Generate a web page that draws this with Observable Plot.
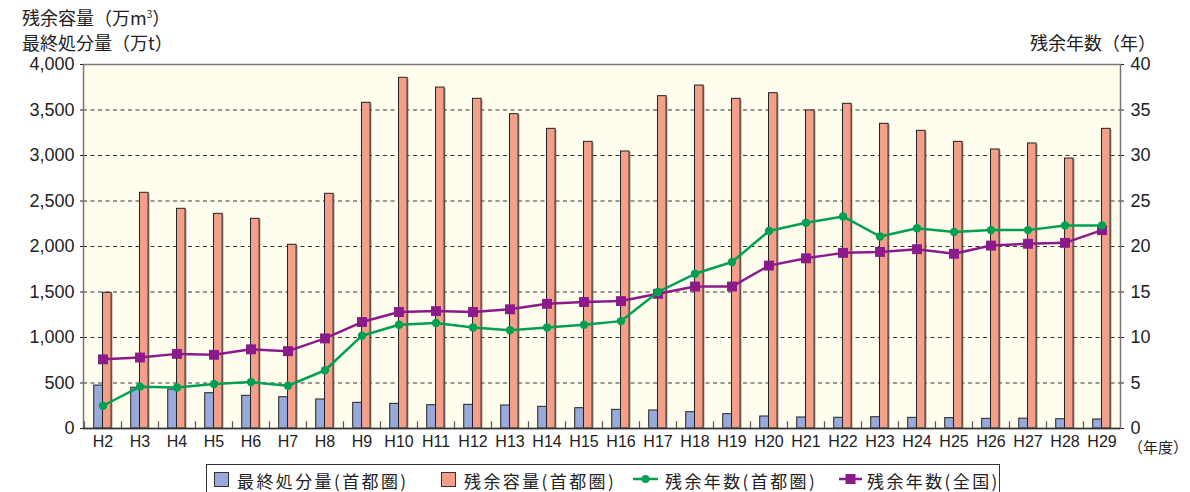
<!DOCTYPE html>
<html><head><meta charset="utf-8">
<script src="https://cdn.jsdelivr.net/npm/d3@7"></script>
<script src="https://cdn.jsdelivr.net/npm/@observablehq/plot@0.6"></script>
<style>
body{margin:0;background:#fff;}
#wrap{position:relative;width:1190px;height:492px;overflow:hidden;font-family:"Noto Sans CJK JP","Liberation Sans",sans-serif;color:#222;}
.lab{position:absolute;font-size:18px;line-height:1;white-space:nowrap;}
#chart{position:absolute;left:0;top:0;}
#legend{position:absolute;left:206px;top:464px;width:794px;height:40px;border:1px solid #333;box-sizing:border-box;}
.li{position:absolute;top:7px;font-size:17px;line-height:1;letter-spacing:2.4px;white-space:nowrap;}
.sw{position:absolute;top:7px;width:15px;height:15px;border:1px solid #333;box-sizing:border-box;}
</style></head>
<body>
<div id="wrap">
  <div id="chart"></div>
  <div class="lab" style="left:22px;top:8px;">残余容量（万m<sup style="font-size:10px;vertical-align:7px;line-height:0">3</sup>）</div>
  <div class="lab" style="left:22px;top:33px;">最終処分量（万t）</div>
  <div class="lab" style="left:1030px;top:33px;">残余年数（年）</div>
  <div class="lab" style="left:1128px;top:439px;font-size:15px;">（年度）</div>
  <div id="legend">
    <div class="sw" style="left:7px;background:#98AADA"></div>
    <div class="li" style="left:30px">最終処分量(首都圏)</div>
    <div class="sw" style="left:234px;background:#F4A088"></div>
    <div class="li" style="left:257px">残余容量(首都圏)</div>
    <svg style="position:absolute;left:425px;top:6px" width="28" height="16"><line x1="1" x2="26" y1="8" y2="8" stroke="#00A050" stroke-width="2.5"/><circle cx="13.5" cy="8" r="4" fill="#00A050"/></svg>
    <div class="li" style="left:458px">残余年数(首都圏)</div>
    <svg style="position:absolute;left:631px;top:6px" width="26" height="16"><line x1="1" x2="24" y1="8" y2="8" stroke="#8B1A8B" stroke-width="2.5"/><rect x="7.5" y="3" width="10" height="10" fill="#8B1A8B"/></svg>
    <div class="li" style="left:660px">残余年数(全国)</div>
  </div>
</div>
<script>
const years = ["H2","H3","H4","H5","H6","H7","H8","H9","H10","H11","H12","H13","H14","H15","H16","H17","H18","H19","H20","H21","H22","H23","H24","H25","H26","H27","H28","H29"];
const disposalMetro = [472,447,428,388,359,344,319,282,271,256,260,253,238,223,205,198,179,157,132,121,118,124,117,114,106,108,102,99];
const capacityMetro = [1491,2590,2414,2359,2304,2019,2579,3579,3854,3747,3623,3454,3293,3150,3044,3652,3769,3623,3685,3495,3568,3348,3271,3150,3066,3132,2967,3293];
const remainYearsMetro = [2.5,4.6,4.5,4.9,5.1,4.7,6.4,10.2,11.4,11.6,11.1,10.8,11.1,11.4,11.8,15.0,17.0,18.3,21.7,22.6,23.3,21.1,22.0,21.6,21.8,21.8,22.3,22.3];
const remainYearsNation = [7.6,7.8,8.2,8.1,8.7,8.5,9.9,11.7,12.8,12.9,12.8,13.1,13.7,13.9,14.0,14.8,15.6,15.6,17.9,18.7,19.3,19.4,19.7,19.2,20.1,20.3,20.4,21.8];
const leftTicks = [0,500,1000,1500,2000,2500,3000,3500,4000];
const rightTicks = [0,5,10,15,20,25,30,35,40];

const rows = years.map((y,i)=>({year:y, disposal:disposalMetro[i], capacity:capacityMetro[i], metro:remainYearsMetro[i], nation:remainYearsNation[i]}));
const K = 100; // 40 years ↔ 4000

const W = 1190, H = 458, mL = 83, mR = 70;
const bw = (W - mL - mR) / years.length;
const half = bw/2;

const numFont = "Liberation Sans, Arial, sans-serif";

const chart = Plot.plot({
  width: W, height: H,
  marginLeft: mL, marginRight: mR, marginTop: 64, marginBottom: 30,
  style: {background:"transparent", fontFamily: numFont, color:"#222"},
  x: {type:"band", domain: years, padding: 0},
  y: {domain:[0,4000]},
  marks: [
    Plot.frame({fill:"#FFFDEE", stroke:null}),
    Plot.ruleY(leftTicks.filter(d=>d>0 && d<4000), {stroke:"#333", strokeDasharray:"4,3.5", strokeWidth:1.2}),
    Plot.ruleX(years, {x:d=>d, y1:0, y2:75, dx:-half, stroke:"#555", strokeWidth:1.2}),
    Plot.barY(rows, {x:"year", y:"disposal", fill:"#777", fillOpacity:0.6, insetLeft: half-8.8, insetRight: half, dx:1.5, dy:1}),
    Plot.barY(rows, {x:"year", y:"capacity", fill:"#777", fillOpacity:0.6, insetLeft: half, insetRight: half-8.6, dx:1.5, dy:1}),
    Plot.barY(rows, {x:"year", y:"disposal", fill:"#98AADA", stroke:"#222", strokeWidth:1, insetLeft: half-8.8, insetRight: half}),
    Plot.barY(rows, {x:"year", y:"capacity", fill:"#F4A088", stroke:"#222", strokeWidth:1, insetLeft: half, insetRight: half-8.6}),
    Plot.line(rows, {x:"year", y:d=>d.nation*K, stroke:"#8B1A8B", strokeWidth:2.5}),
    Plot.dot(rows, {x:"year", y:d=>d.nation*K, symbol:"square", r:5.6, fill:"#8B1A8B"}),
    Plot.line(rows, {x:"year", y:d=>d.metro*K, stroke:"#00A050", strokeWidth:2.5}),
    Plot.dot(rows, {x:"year", y:d=>d.metro*K, r:4.2, fill:"#00A050"}),
    Plot.frame({stroke:"#777", strokeWidth:1.5}),
    Plot.ruleY([0], {stroke:"#333", strokeWidth:1.5}),
    Plot.axisY({anchor:"left", ticks:leftTicks, tickFormat:d3.format(","), tickSize:3, tickPadding:6, fontSize:18, label:null, style:{letterSpacing:"1.6px"}}),
    Plot.axisY({anchor:"right", ticks:leftTicks, tickFormat:d=>String(d/K), tickSize:3, tickPadding:7, fontSize:18, label:null, style:{letterSpacing:"1.6px"}}),
    Plot.axisX({tickSize:0, tickPadding:7, fontSize:16, label:null})
  ]
});
document.getElementById("chart").appendChild(chart);
</script>
</body></html>
